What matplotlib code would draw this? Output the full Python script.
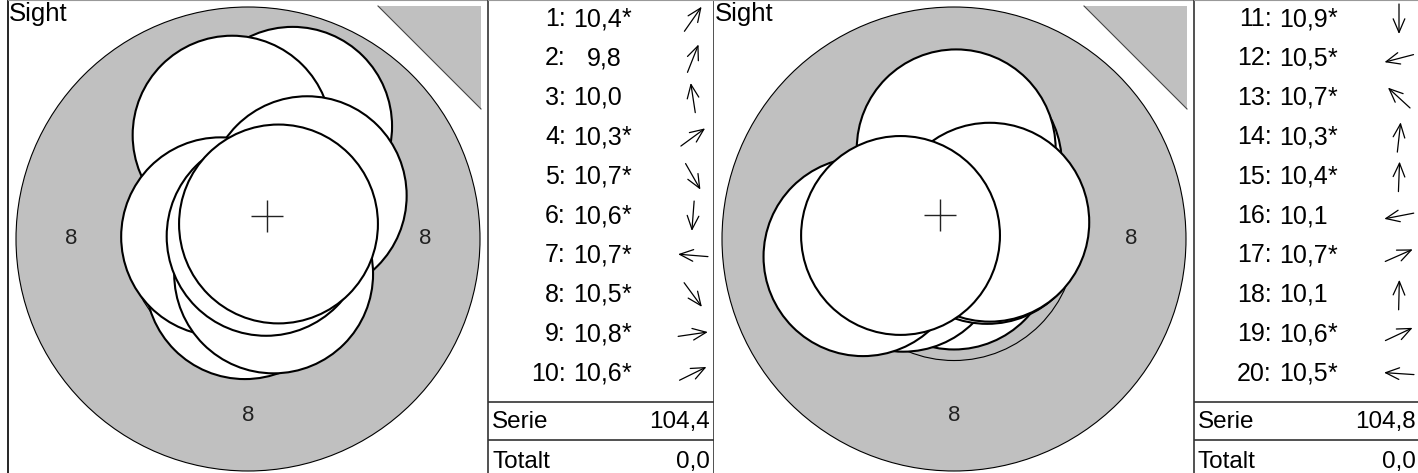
import numpy as np
import matplotlib
matplotlib.use('Agg')
import matplotlib.pyplot as plt
from matplotlib.patches import Circle, Polygon

plt.rcParams['font.family'] = ['Liberation Sans', 'DejaVu Sans']

# ---- values ----
# shot positions are in mm from the target centre (x to the right, y up)
shots_a = [1, 2, 3, 4, 5, 6, 7, 8, 9, 10]
scores_a = [10.4, 9.8, 10.0, 10.3, 10.7, 10.6, 10.7, 10.5, 10.8, 10.6]
inner_a = [True, False, False, True, True, True, True, True, True, True]
x_a = [0.86, 1.01, -0.36, 1.34, 0.37, -0.07, -0.62, 0.58, 0.41, 0.69]
y_a = [1.23, 2.55, 2.35, 0.98, -0.65, -0.92, 0.05, -0.79, 0.06, 0.34]

shots_b = [11, 12, 13, 14, 15, 16, 17, 18, 19, 20]
scores_b = [10.9, 10.5, 10.7, 10.3, 10.4, 10.1, 10.7, 10.1, 10.6, 10.5]
inner_b = [True, True, True, True, True, False, True, False, True, True]
x_b = [0.0, -1.15, -0.50, 0.19, 0.05, -2.06, 0.75, 0.05, 0.81, -1.21]
y_b = [-0.25, -0.30, 0.46, 1.70, 1.30, -0.40, 0.33, 2.04, 0.38, 0.08]

totalt = [0.0, 0.0]

# 10m air rifle target, ring radii in mm
ring_r = {10: 0.25, 9: 2.75, 8: 5.25}
ring_labels = ['8', '8', '8', '8']
pellet_r = 2.25

# ---- layout (pixels) ----
W, H = 1418, 473
PX_MM = 232 / ring_r[8]          # pixels per mm on screen
GREY = '#c0c0c0'
LINE = '#333333'
TAB_W = 226

ROW0 = 26.0        # baseline of first shot row
ROW_H = 39.4
NUM_X = 78
SCORE_X = 134
ARROW_X = 205
ARROW_LEN = 30


def fmt(v):
    return f"{v:.1f}".replace('.', ',')


fig = plt.figure(figsize=(W / 100, H / 100), dpi=100)


def target(x0, xs, ys, left_border):
    ax = fig.add_axes([x0 / W, 0, 480 / W, 1])
    ax.set_xlim(-240 / PX_MM, 240 / PX_MM)
    ax.set_ylim(-(H - 239) / PX_MM, 239 / PX_MM)
    ax.set_xticks([])
    ax.set_yticks([])
    for side in ['right', 'bottom']:
        ax.spines[side].set_visible(False)
    ax.spines['top'].set_color('#999999')
    ax.spines['top'].set_linewidth(0.8)
    if left_border:
        ax.spines['left'].set_color('black')
        ax.spines['left'].set_linewidth(1.2)
    else:
        ax.spines['left'].set_visible(False)

    ax.add_patch(Circle((0, 0), ring_r[8], fc=GREY, ec='black', lw=0.8, zorder=1))
    ax.add_patch(Circle((0, 0), ring_r[9], fc='none', ec='black', lw=0.8, zorder=1))
    ax.add_patch(Circle((0, 0), ring_r[10], fc='none', ec='black', lw=0.8, zorder=1))
    mid = (ring_r[8] + ring_r[9]) / 2
    for lab, (ux, uy) in zip(ring_labels, [(-1, 0), (1, 0), (0, -1), (0, 1)]):
        ax.text(ux * mid, uy * mid, lab, ha='center', va='center', fontsize=16,
                color='#222222', zorder=2)

    # sighter corner
    xr = ax.get_xlim()[1] - 7 / PX_MM
    yt = ax.get_ylim()[1] - 6 / PX_MM
    leg = 103 / PX_MM
    ax.add_patch(Polygon([(xr - leg, yt), (xr, yt), (xr, yt - leg)], closed=True,
                         fc=GREY, ec='none', zorder=1))
    ax.plot([xr - leg, xr], [yt, yt - leg], color='#444444', lw=0.8, zorder=1)
    ax.text(0.5 / 480, 1 - 2 / H, 'Sight', transform=ax.transAxes, ha='left', va='top',
            fontsize=18.5, color='black')

    for i, (x, y) in enumerate(zip(xs, ys)):
        ax.add_patch(Circle((x, y), pellet_r, fc='white', ec='black', lw=1.5, zorder=3 + i))
    ax.plot(np.mean(xs), np.mean(ys), marker='+', ms=23, mew=1.0, color='#222222', zorder=50)
    return ax


def table(x0, shots, scores, inner, xs, ys, total, right_border):
    ax = fig.add_axes([x0 / W, 0, TAB_W / W, 1])
    ax.set_xlim(0, TAB_W)
    ax.set_ylim(H, 0)
    ax.set_xticks([])
    ax.set_yticks([])
    ax.spines['bottom'].set_visible(False)
    ax.spines['top'].set_color('#999999')
    ax.spines['top'].set_linewidth(0.8)
    ax.spines['left'].set_color(LINE)
    ax.spines['left'].set_linewidth(1.2)
    if right_border:
        ax.spines['right'].set_color(LINE)
        ax.spines['right'].set_linewidth(1.2)
    else:
        ax.spines['right'].set_visible(False)

    for i, (n, sc, star, x, y) in enumerate(zip(shots, scores, inner, xs, ys)):
        base = ROW0 + i * ROW_H
        ax.text(NUM_X, base, f"{n}:", ha='right', va='baseline', fontsize=18)
        ax.text(SCORE_X, base, fmt(sc), ha='right', va='baseline', fontsize=18)
        if star:
            ax.text(SCORE_X, base, '*', ha='left', va='baseline', fontsize=18)
        ang = np.arctan2(y, x)
        dx = ARROW_LEN / 2 * np.cos(ang)
        dy = ARROW_LEN / 2 * np.sin(ang)
        cy = base - 7
        ax.annotate('', xy=(ARROW_X + dx, cy - dy), xytext=(ARROW_X - dx, cy + dy),
                    arrowprops=dict(arrowstyle='->,head_length=0.7,head_width=0.3',
                                    mutation_scale=14, lw=0.9, color='black',
                                    shrinkA=0, shrinkB=0))

    ax.axhline(401.5, color=LINE, lw=1.2)
    ax.axhline(440, color=LINE, lw=1.2)
    ax.text(4, 428.3, 'Serie', ha='left', va='baseline', fontsize=17.5)
    ax.text(TAB_W - 4, 428.3, fmt(sum(scores)), ha='right', va='baseline', fontsize=17.5)
    ax.text(4, 467.5, 'Totalt', ha='left', va='baseline', fontsize=17.5)
    ax.text(TAB_W - 4, 467.5, fmt(total), ha='right', va='baseline', fontsize=17.5)
    return ax


target(8, x_a, y_a, True)
table(488, shots_a, scores_a, inner_a, x_a, y_a, totalt[0], True)
target(714, x_b, y_b, False)
table(1194, shots_b, scores_b, inner_b, x_b, y_b, totalt[1], False)

fig.savefig('out.png', dpi=100)
